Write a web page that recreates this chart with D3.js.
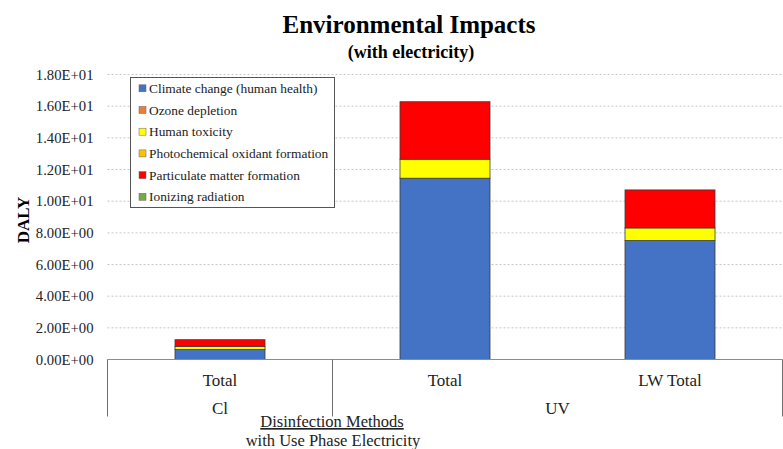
<!DOCTYPE html>
<html><head><meta charset="utf-8">
<script src="https://cdn.jsdelivr.net/npm/d3@7"></script>
<style>
body{margin:0;background:#fff;}
svg{display:block;}
svg text{font-family:"Liberation Serif","Times New Roman",serif !important;}
</style></head>
<body>
<svg id="chart" width="783" height="449"></svg>
<script>
// ---- data ----
const categories = ["Total", "Total", "LW Total"];
const groups = ["Cl", "UV", "UV"];
const seriesNames = ["Climate change (human health)", "Ozone depletion", "Human toxicity",
  "Photochemical oxidant formation", "Particulate matter formation", "Ionizing radiation"];
const seriesColors = ["#4472C4", "#ED7D31", "#FFFF00", "#FFC000", "#FF0000", "#70AD47"];
const climateChange = [0.64, 11.45, 7.51];
const ozoneDepletion = [0, 0, 0];
const humanToxicity = [0.19, 1.20, 0.80];
const photochemical = [0, 0, 0];
const particulateMatter = [0.42, 3.63, 2.40];
const ionizingRadiation = [0, 0, 0];
const yTicks = [0, 2, 4, 6, 8, 10, 12, 14, 16, 18];

// ---- build table ----
const seriesValues = [climateChange, ozoneDepletion, humanToxicity, photochemical, particulateMatter, ionizingRadiation];
const keys = seriesNames;
const table = categories.map((c, i) => {
  const row = {id: i, cat: c, group: groups[i]};
  keys.forEach((k, j) => row[k] = seriesValues[j][i]);
  return row;
});
const stacked = d3.stack().keys(keys)(table);

const svg = d3.select("#chart");
const pLeft = 107.5, pRight = 782.5, pTop = 74.5, pBottom = 359.5;

const x = d3.scaleBand().domain(table.map(d => d.id)).range([pLeft, pRight])
  .paddingInner(0.6).paddingOuter(0.3);
const xSlot = d3.scaleBand().domain(table.map(d => d.id)).range([pLeft, pRight]).padding(0);
const y = d3.scaleLinear().domain([0, 18]).range([pBottom, pTop]);

function fmtE(v) {
  let s = v.toExponential(2);
  let [m, e] = s.split("e");
  let sign = e[0] === "-" ? "-" : "+";
  let num = Math.abs(parseInt(e, 10));
  return m + "E" + sign + String(num).padStart(2, "0");
}

// gridlines
svg.append("g").selectAll("line").data(yTicks.filter(t => t > 0)).join("line")
  .attr("x1", pLeft).attr("x2", pRight)
  .attr("y1", d => y(d)).attr("y2", d => y(d))
  .attr("stroke", "#c6c6c6").attr("stroke-width", 1).attr("stroke-dasharray", "2,2");

// y axis labels
const yAxis = d3.axisLeft(y).tickValues(yTicks).tickFormat(fmtE).tickSize(0).tickPadding(14);
const yg = svg.append("g").attr("transform", `translate(${pLeft},0)`).call(yAxis);
yg.select(".domain").remove();
yg.selectAll("text").attr("font-size", "14.7px").attr("fill", "#222");

// bars
svg.append("g").selectAll("g").data(stacked).join("g")
  .attr("fill", (d, i) => seriesColors[i])
  .selectAll("rect").data(d => d.filter(p => p[1] - p[0] > 0)).join("rect")
  .attr("x", d => x(d.data.id))
  .attr("width", x.bandwidth())
  .attr("y", d => y(d[1]))
  .attr("height", d => y(d[0]) - y(d[1]))
  .attr("stroke", "#3a3a3a").attr("stroke-width", 0.8);

// x axis line
svg.append("line").attr("x1", pLeft).attr("x2", pRight).attr("y1", pBottom).attr("y2", pBottom)
  .attr("stroke", "#8c8c8c").attr("stroke-width", 1);

// category labels
const xAxis = d3.axisBottom(xSlot).tickFormat(i => categories[i]).tickSize(0).tickPadding(14);
const xg = svg.append("g").attr("transform", `translate(0,${pBottom})`).call(xAxis);
xg.select(".domain").remove();
xg.selectAll("text").attr("font-size", "17px").attr("fill", "#222");

// group labels and separators
const groupNames = Array.from(new Set(groups));
const groupInfo = groupNames.map(g => {
  const ids = table.filter(d => d.group === g).map(d => d.id);
  const x0 = xSlot(ids[0]);
  const x1 = xSlot(ids[ids.length - 1]) + xSlot.bandwidth();
  return {g, x0, x1};
});
svg.append("g").selectAll("text").data(groupInfo).join("text")
  .attr("x", d => (d.x0 + d.x1) / 2).attr("y", 414)
  .attr("text-anchor", "middle").attr("font-size", "17px").attr("fill", "#222")
  .text(d => d.g);
const seps = [groupInfo[0].x0].concat(groupInfo.map(d => d.x1));
svg.append("g").selectAll("line").data(seps).join("line")
  .attr("x1", d => d).attr("x2", d => d).attr("y1", pBottom).attr("y2", 416.5)
  .attr("stroke", "#6e6e6e").attr("stroke-width", 1);

// titles
svg.append("text").attr("x", 409).attr("y", 33).attr("text-anchor", "middle")
  .attr("font-size", "25px").attr("font-weight", "bold").attr("fill", "#000")
  .text("Environmental Impacts");
svg.append("text").attr("x", 411).attr("y", 58).attr("text-anchor", "middle")
  .attr("font-size", "18px").attr("font-weight", "bold").attr("fill", "#000")
  .text("(with electricity)");

// y title
svg.append("text").attr("transform", "translate(29,220) rotate(-90)")
  .attr("text-anchor", "middle").attr("font-size", "17px").attr("font-weight", "bold")
  .attr("fill", "#000").text("DALY");

// x title
svg.append("text").attr("x", 332).attr("y", 427).attr("text-anchor", "middle")
  .attr("font-size", "16.5px").attr("fill", "#222").attr("text-decoration", "underline")
  .text("Disinfection Methods");
svg.append("text").attr("x", 333).attr("y", 446).attr("text-anchor", "middle")
  .attr("font-size", "16.5px").attr("fill", "#222")
  .text("with Use Phase Electricity");

// legend
const lg = svg.append("g");
lg.append("rect").attr("x", 130.5).attr("y", 77.5).attr("width", 204).attr("height", 130)
  .attr("fill", "#fff").attr("stroke", "#555").attr("stroke-width", 1);
const items = lg.selectAll("g").data(seriesNames).join("g")
  .attr("transform", (d, i) => `translate(139,${88.3 + i * 21.7})`);
items.append("rect").attr("x", 0).attr("y", -3.5).attr("width", 7).attr("height", 7)
  .attr("fill", (d, i) => seriesColors[i]).attr("stroke", "#666").attr("stroke-width", 0.5);
items.append("text").attr("x", 10).attr("y", 4.5).attr("font-size", "13.4px").attr("fill", "#222")
  .text(d => d);
</script>
</body></html>
